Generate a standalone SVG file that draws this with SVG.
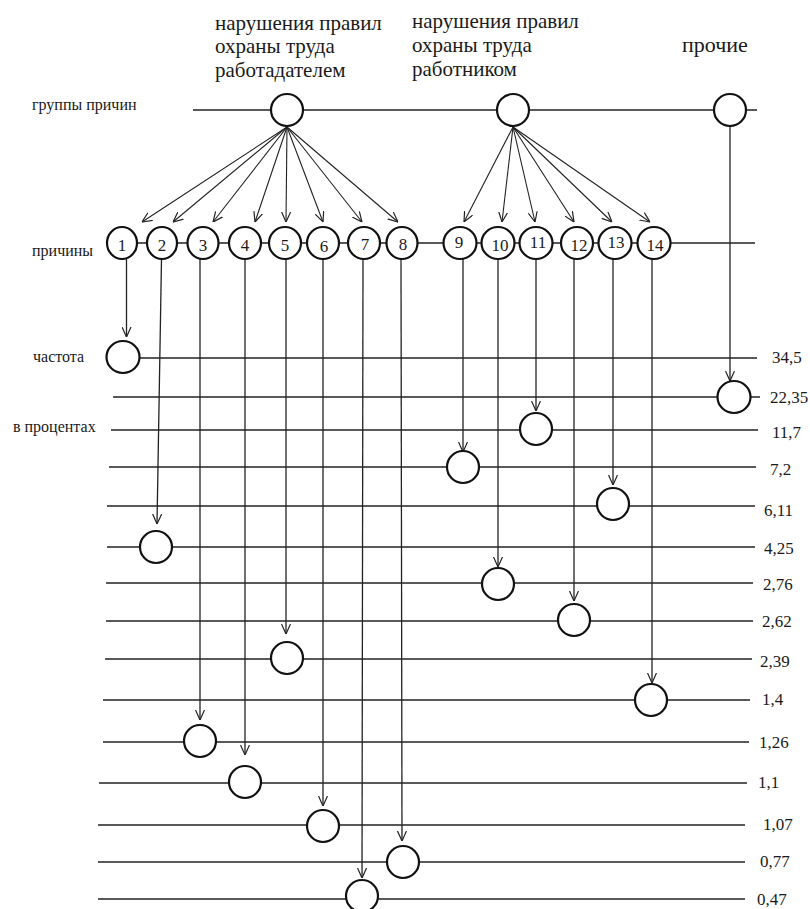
<svg xmlns="http://www.w3.org/2000/svg" width="810" height="909" viewBox="0 0 810 909">
<style>
text{font-family:"Liberation Serif","DejaVu Serif","Times New Roman",serif;fill:#1a1a1a}
.hd{font-size:21px}
.lb{font-size:16px}
.val{font-size:17px}
.num{font-size:17px;text-anchor:middle}
.row{stroke:#222;stroke-width:1.6;fill:none}
.nd{fill:#fff;stroke:#111;stroke-width:2.2}
.ar{stroke:#222;stroke-width:1.1;fill:none;marker-end:url(#arr)}
.vl{stroke:#222;stroke-width:1.3;fill:none;marker-end:url(#arr)}
</style>
<defs>
<marker id="arr" viewBox="0 0 10 10" refX="10" refY="5" markerWidth="10" markerHeight="10" markerUnits="userSpaceOnUse" orient="auto">
<path d="M0,0.5 L10,5 L0,9.5" fill="none" stroke="#222" stroke-width="1.2"/>
</marker>
</defs>
<rect width="810" height="909" fill="#fff"/>

<!-- axis labels -->
<g id="labels">
<text class="lb" x="32" y="110">группы причин</text>
<text class="lb" x="32" y="256">причины</text>
<text class="lb" x="33" y="362">частота</text>
<text class="lb" x="13" y="432">в процентах</text>
</g>

<!-- base lines -->
<g id="rows">
<line class="row" x1="193" y1="110" x2="757" y2="110"/>
<line class="row" x1="122" y1="243" x2="755" y2="243"/>
<line class="row" x1="123" y1="358" x2="757" y2="358"/>
<line class="row" x1="113" y1="397" x2="760" y2="397"/>
<line class="row" x1="111" y1="430" x2="758" y2="430"/>
<line class="row" x1="109" y1="467" x2="756" y2="467"/>
<line class="row" x1="107" y1="506" x2="755" y2="506"/>
<line class="row" x1="107" y1="547" x2="755" y2="547"/>
<line class="row" x1="106" y1="583" x2="753" y2="583"/>
<line class="row" x1="106" y1="621" x2="753" y2="621"/>
<line class="row" x1="105" y1="659" x2="752" y2="659"/>
<line class="row" x1="103" y1="700" x2="750" y2="700"/>
<line class="row" x1="103" y1="742" x2="749" y2="742"/>
<line class="row" x1="99" y1="783" x2="747" y2="783"/>
<line class="row" x1="98" y1="825" x2="745" y2="825"/>
<line class="row" x1="98" y1="862" x2="745" y2="862"/>
<line class="row" x1="98" y1="899" x2="745" y2="899"/>
</g>

<!-- connectors -->
<g id="connectors">
<line class="ar" x1="287" y1="127" x2="142" y2="222"/>
<line class="ar" x1="287" y1="127" x2="173" y2="222"/>
<line class="ar" x1="287" y1="127" x2="213" y2="222"/>
<line class="ar" x1="287" y1="127" x2="255" y2="222"/>
<line class="ar" x1="287" y1="127" x2="286" y2="222"/>
<line class="ar" x1="287" y1="127" x2="323" y2="222"/>
<line class="ar" x1="287" y1="127" x2="362" y2="222"/>
<line class="ar" x1="287" y1="127" x2="398" y2="222"/>
<line class="ar" x1="513" y1="127" x2="464" y2="222"/>
<line class="ar" x1="513" y1="127" x2="502" y2="222"/>
<line class="ar" x1="513" y1="127" x2="535" y2="222"/>
<line class="ar" x1="513" y1="127" x2="574" y2="222"/>
<line class="ar" x1="513" y1="127" x2="612" y2="222"/>
<line class="ar" x1="513" y1="127" x2="650" y2="222"/>
<line class="vl" x1="730" y1="126" x2="730" y2="381"/>
<line class="vl" x1="126.5" y1="259" x2="126.5" y2="337"/>
<line class="vl" x1="161.5" y1="259" x2="157" y2="524"/>
<line class="vl" x1="200" y1="259" x2="200" y2="720"/>
<line class="vl" x1="245" y1="259" x2="245" y2="755"/>
<line class="vl" x1="286" y1="259" x2="286" y2="634"/>
<line class="vl" x1="323" y1="259" x2="323" y2="806"/>
<line class="vl" x1="363" y1="259" x2="362" y2="878"/>
<line class="vl" x1="401" y1="259" x2="402" y2="841"/>
<line class="vl" x1="463" y1="259" x2="463" y2="452"/>
<line class="vl" x1="498" y1="259" x2="498" y2="567"/>
<line class="vl" x1="536" y1="259" x2="536" y2="411"/>
<line class="vl" x1="574" y1="259" x2="574" y2="601"/>
<line class="vl" x1="613" y1="259" x2="613" y2="485"/>
<line class="vl" x1="652" y1="259" x2="652" y2="683"/>
</g>

<!-- group nodes -->
<g id="group-employer">
<ellipse class="nd" cx="287" cy="110" rx="16" ry="16"/>
<text class="hd" x="215" y="30">нарушения правил</text>
<text class="hd" x="215" y="53">охраны труда</text>
<text class="hd" x="215" y="77">работадателем</text>
</g>
<g id="group-employee">
<ellipse class="nd" cx="513" cy="110" rx="16" ry="16"/>
<text class="hd" x="412" y="28">нарушения правил</text>
<text class="hd" x="412" y="52">охраны труда</text>
<text class="hd" x="412" y="76">работником</text>
</g>
<g id="group-other">
<ellipse class="nd" cx="730" cy="110" rx="16" ry="16"/>
<text class="hd" x="682" y="52" style="font-size:22px">прочие</text>
</g>

<!-- cause nodes -->
<g id="cause-1"><ellipse class="nd" cx="122" cy="243" rx="15" ry="16"/><text class="num" x="122" y="251">1</text></g>
<g id="cause-2"><ellipse class="nd" cx="162" cy="243" rx="15" ry="16"/><text class="num" x="162" y="251">2</text></g>
<g id="cause-3"><ellipse class="nd" cx="203" cy="243" rx="15.5" ry="16"/><text class="num" x="203" y="251">3</text></g>
<g id="cause-4"><ellipse class="nd" cx="245" cy="243" rx="16" ry="16"/><text class="num" x="245" y="251">4</text></g>
<g id="cause-5"><ellipse class="nd" cx="285" cy="243" rx="16" ry="16"/><text class="num" x="285" y="251">5</text></g>
<g id="cause-6"><ellipse class="nd" cx="323" cy="243" rx="16" ry="16"/><text class="num" x="324" y="252">6</text></g>
<g id="cause-7"><ellipse class="nd" cx="364" cy="243" rx="16" ry="16"/><text class="num" x="365" y="250">7</text></g>
<g id="cause-8"><ellipse class="nd" cx="402" cy="243" rx="15.5" ry="16"/><text class="num" x="403" y="250">8</text></g>
<g id="cause-9"><ellipse class="nd" cx="460" cy="243" rx="16.5" ry="16"/><text class="num" x="459" y="248">9</text></g>
<g id="cause-10"><ellipse class="nd" cx="498" cy="243" rx="16.5" ry="16"/><text class="num" x="500" y="251">10</text></g>
<g id="cause-11"><ellipse class="nd" cx="536" cy="243" rx="16.5" ry="16"/><text class="num" x="538" y="248">11</text></g>
<g id="cause-12"><ellipse class="nd" cx="577" cy="243" rx="16" ry="16"/><text class="num" x="579" y="251">12</text></g>
<g id="cause-13"><ellipse class="nd" cx="615" cy="243" rx="16.5" ry="16"/><text class="num" x="616" y="248">13</text></g>
<g id="cause-14"><ellipse class="nd" cx="654" cy="243" rx="16.5" ry="16"/><text class="num" x="655" y="251">14</text></g>

<!-- frequency nodes -->
<g id="freq-34-5"><ellipse class="nd" cx="123" cy="357" rx="16.5" ry="16"/><text class="val" x="772" y="363">34,5</text></g>
<g id="freq-22-35"><ellipse class="nd" cx="734" cy="397" rx="16.5" ry="16"/><text class="val" x="770" y="403">22,35</text></g>
<g id="freq-11-7"><ellipse class="nd" cx="536" cy="429" rx="16" ry="16"/><text class="val" x="772" y="438">11,7</text></g>
<g id="freq-7-2"><ellipse class="nd" cx="463" cy="467" rx="16" ry="16"/><text class="val" x="770" y="475">7,2</text></g>
<g id="freq-6-11"><ellipse class="nd" cx="613" cy="504" rx="16" ry="16"/><text class="val" x="764" y="516">6,11</text></g>
<g id="freq-4-25"><ellipse class="nd" cx="156" cy="547" rx="16" ry="16"/><text class="val" x="764" y="554">4,25</text></g>
<g id="freq-2-76"><ellipse class="nd" cx="498" cy="584" rx="16" ry="16"/><text class="val" x="763" y="590">2,76</text></g>
<g id="freq-2-62"><ellipse class="nd" cx="574" cy="620" rx="16" ry="16"/><text class="val" x="762" y="627">2,62</text></g>
<g id="freq-2-39"><ellipse class="nd" cx="287" cy="658" rx="16" ry="16"/><text class="val" x="760" y="667">2,39</text></g>
<g id="freq-1-4"><ellipse class="nd" cx="651" cy="700" rx="16" ry="16"/><text class="val" x="762" y="705">1,4</text></g>
<g id="freq-1-26"><ellipse class="nd" cx="200" cy="741" rx="16" ry="16"/><text class="val" x="759" y="748">1,26</text></g>
<g id="freq-1-1"><ellipse class="nd" cx="245" cy="782" rx="16" ry="16"/><text class="val" x="758" y="788">1,1</text></g>
<g id="freq-1-07"><ellipse class="nd" cx="323" cy="826" rx="16" ry="16"/><text class="val" x="763" y="830">1,07</text></g>
<g id="freq-0-77"><ellipse class="nd" cx="403" cy="862" rx="16" ry="16"/><text class="val" x="760" y="867">0,77</text></g>
<g id="freq-0-47"><ellipse class="nd" cx="362" cy="896" rx="16" ry="16"/><text class="val" x="757" y="905">0,47</text></g>
</svg>
